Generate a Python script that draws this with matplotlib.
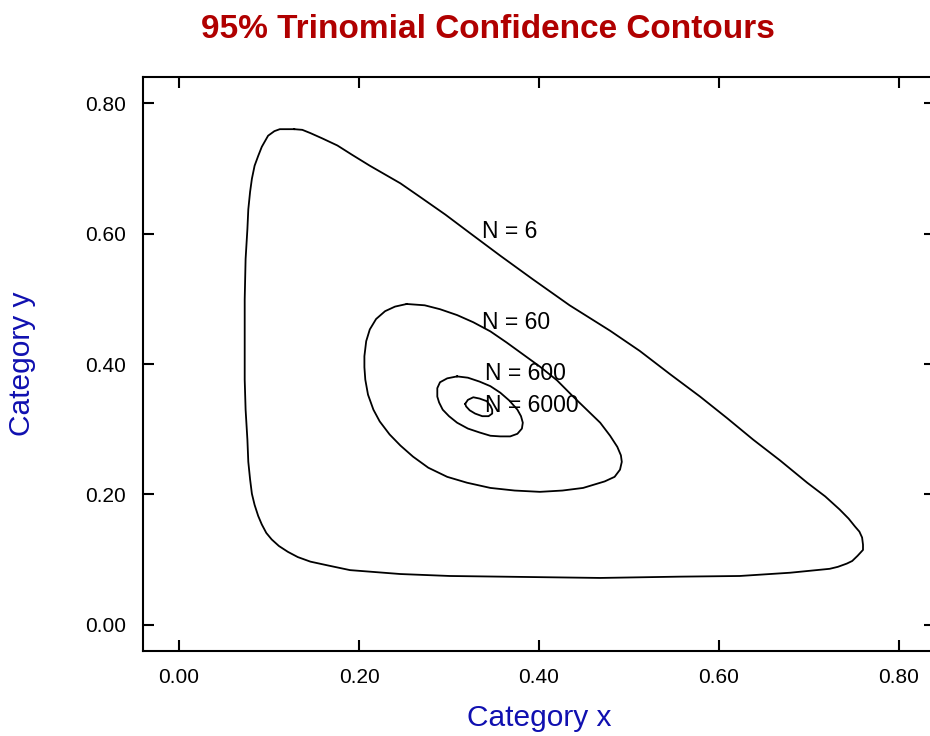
import matplotlib
matplotlib.use("Agg")
import matplotlib.pyplot as plt

# contour outlines (x = category x, y = category y)
n6_x = [0.128, 0.137, 0.146, 0.159, 0.176, 0.192, 0.212, 0.246, 0.268, 0.296,
        0.323, 0.357, 0.393, 0.434, 0.479, 0.512, 0.546, 0.579, 0.609, 0.638,
        0.668, 0.698, 0.718, 0.734, 0.744, 0.751, 0.756, 0.759, 0.760, 0.760,
        0.754, 0.748, 0.742, 0.732, 0.723, 0.701, 0.679, 0.623, 0.557, 0.468,
        0.357, 0.301, 0.246, 0.190, 0.166, 0.146, 0.132, 0.121, 0.111, 0.103,
        0.097, 0.092, 0.088, 0.084, 0.081, 0.079, 0.077, 0.076, 0.074, 0.073,
        0.073, 0.073, 0.074, 0.076, 0.077, 0.079, 0.081, 0.084, 0.088, 0.092,
        0.099, 0.106, 0.112, 0.128]
n6_y = [0.760, 0.759, 0.754, 0.746, 0.735, 0.721, 0.704, 0.677, 0.656, 0.629,
        0.601, 0.566, 0.530, 0.490, 0.451, 0.420, 0.384, 0.350, 0.317, 0.284,
        0.252, 0.218, 0.197, 0.177, 0.163, 0.151, 0.143, 0.134, 0.123, 0.115,
        0.106, 0.098, 0.094, 0.089, 0.086, 0.083, 0.080, 0.075, 0.074, 0.072,
        0.074, 0.075, 0.078, 0.084, 0.091, 0.097, 0.104, 0.112, 0.121, 0.131,
        0.141, 0.154, 0.167, 0.184, 0.201, 0.223, 0.250, 0.284, 0.330, 0.376,
        0.438, 0.499, 0.561, 0.607, 0.637, 0.664, 0.684, 0.704, 0.719, 0.733,
        0.750, 0.757, 0.760, 0.760]

n60_x = [0.253, 0.273, 0.290, 0.309, 0.327, 0.346, 0.364, 0.382, 0.401, 0.420,
         0.438, 0.453, 0.468, 0.479, 0.487, 0.491, 0.492, 0.490, 0.484, 0.473,
         0.449, 0.426, 0.401, 0.373, 0.346, 0.320, 0.298, 0.277, 0.260, 0.246,
         0.234, 0.223, 0.216, 0.210, 0.207, 0.206, 0.206, 0.208, 0.212, 0.219,
         0.229, 0.240, 0.253]
n60_y = [0.492, 0.490, 0.484, 0.475, 0.464, 0.450, 0.433, 0.415, 0.396, 0.375,
         0.350, 0.330, 0.310, 0.290, 0.273, 0.260, 0.250, 0.238, 0.227, 0.220,
         0.210, 0.206, 0.204, 0.206, 0.210, 0.218, 0.227, 0.241, 0.258, 0.275,
         0.292, 0.312, 0.330, 0.353, 0.376, 0.395, 0.412, 0.435, 0.453, 0.469,
         0.481, 0.488, 0.492]

n600_x = [0.309, 0.321, 0.334, 0.346, 0.357, 0.367, 0.376, 0.380, 0.382, 0.381,
          0.376, 0.368, 0.357, 0.346, 0.334, 0.321, 0.309, 0.300, 0.293, 0.289,
          0.287, 0.287, 0.290, 0.298, 0.309]
n600_y = [0.381, 0.379, 0.373, 0.366, 0.356, 0.344, 0.330, 0.320, 0.310, 0.301,
          0.293, 0.289, 0.289, 0.290, 0.295, 0.301, 0.310, 0.320, 0.330, 0.341,
          0.350, 0.363, 0.372, 0.378, 0.381]

n6000_x = [0.318, 0.321, 0.327, 0.334, 0.342, 0.346, 0.348, 0.348, 0.344, 0.337,
           0.329, 0.323, 0.319, 0.318]
n6000_y = [0.339, 0.345, 0.349, 0.347, 0.343, 0.336, 0.330, 0.324, 0.320, 0.320,
           0.324, 0.329, 0.335, 0.339]

labels = ["N = 6", "N = 60", "N = 600", "N = 6000"]
label_x = [0.337, 0.337, 0.340, 0.340]
label_y = [0.603, 0.463, 0.386, 0.337]

ticks = [0.0, 0.2, 0.4, 0.6, 0.8]
tick_labels = ["0.00", "0.20", "0.40", "0.60", "0.80"]

plt.rcParams['font.family'] = ['Liberation Sans', 'DejaVu Sans']

fig = plt.figure(figsize=(9.30, 7.36), dpi=100)
ax = fig.add_axes([143 / 930, 85 / 736, 792 / 930, 574 / 736])

for xs, ys in [(n6_x, n6_y), (n60_x, n60_y), (n600_x, n600_y), (n6000_x, n6000_y)]:
    ax.plot(xs, ys, color="black", linewidth=1.3, solid_joinstyle="round")

for text, tx, ty in zip(labels, label_x, label_y):
    ax.text(tx, ty, text, fontsize=16.5, ha="left", va="center")

ax.set_xlim(-0.04, 0.84)
ax.set_ylim(-0.04, 0.84)
ax.set_xticks(ticks)
ax.set_xticklabels(tick_labels)
ax.set_yticks(ticks)
ax.set_yticklabels(tick_labels)
ax.tick_params(direction="in", length=8, width=1.5, labelsize=15, pad=12,
               top=True, right=True)
for spine in ax.spines.values():
    spine.set_linewidth(1.5)

fig.text(488 / 930, 1 - 30 / 736, "95% Trinomial Confidence Contours",
         fontsize=24, fontweight="bold", color="#b00000", ha="center", va="center")
fig.text(539 / 930, 1 - 718 / 736, "Category x", fontsize=21.5, color="#1010b0",
         ha="center", va="center")
fig.text(22 / 930, 1 - 364 / 736, "Category y", fontsize=21.5, color="#1010b0",
         ha="center", va="center", rotation=90)

plt.savefig("out.png")
